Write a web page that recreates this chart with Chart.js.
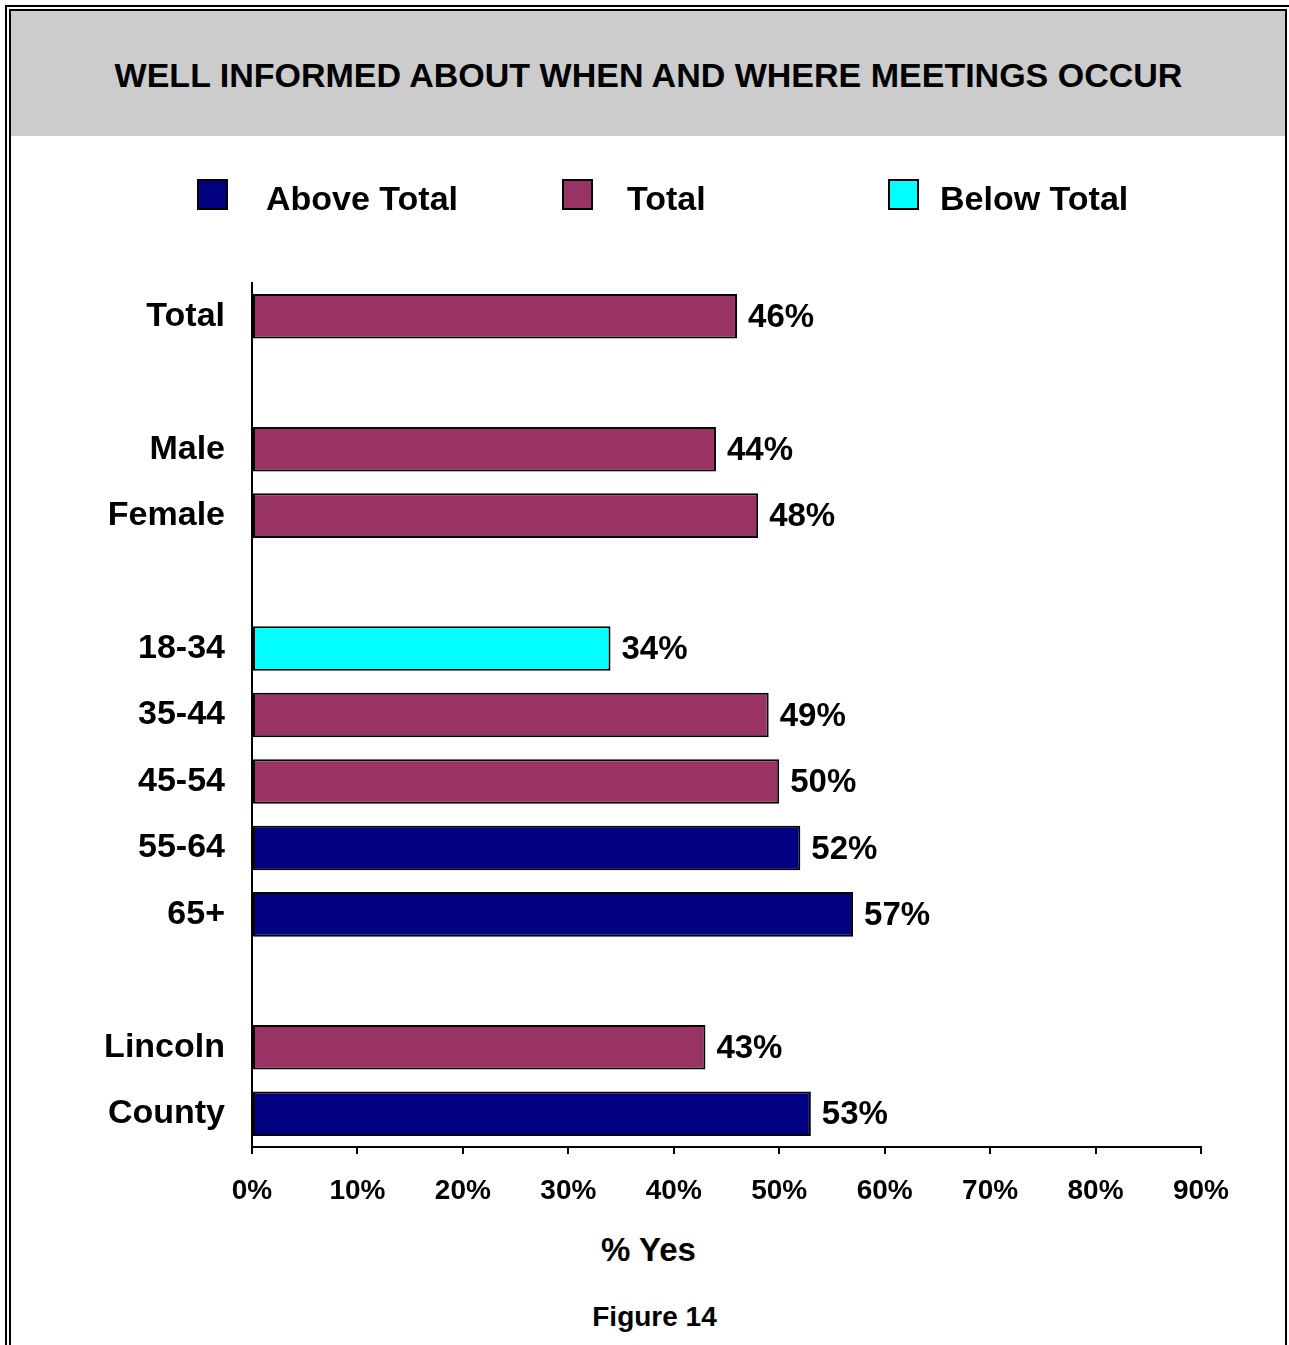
<!DOCTYPE html>
<html>
<head>
<meta charset="utf-8">
<script src="https://cdn.jsdelivr.net/npm/chart.js@4/dist/chart.umd.min.js"></script>
<style>
html,body{margin:0;padding:0;background:#fff;overflow:hidden;}
body{width:1289px;height:1345px;position:relative;font-family:"Liberation Sans",Arial,sans-serif;}
#outer{position:absolute;left:5px;top:5px;width:1400px;height:1500px;border-left:2px solid #000;border-top:2px solid #000;}
#inner{position:absolute;left:9px;top:9px;width:1274px;height:1500px;border-left:2px solid #000;border-top:2px solid #000;border-right:2px solid #000;}
#band{position:absolute;left:11px;top:11px;width:1274px;height:125px;background:#cccccc;}
.txt{position:absolute;width:1289px;text-align:center;font-weight:bold;color:#000;white-space:nowrap;}
#title{left:4px;top:56px;font-size:34px;line-height:39px;}
#xtitle{left:4px;top:1231px;font-size:33px;line-height:38px;}
#caption{left:10px;top:1301px;font-size:28px;line-height:32px;}
#c{position:absolute;left:0;top:0;}
</style>
</head>
<body>
<div id="outer"></div>
<div id="inner"></div>
<div id="band"></div>
<div class="txt" id="title">WELL INFORMED ABOUT WHEN AND WHERE MEETINGS OCCUR</div>
<div class="txt" id="xtitle">% Yes</div>
<div class="txt" id="caption">Figure 14</div>
<canvas id="c" width="1289" height="1345" style="width:1289px;height:1345px"></canvas>
<script>
const categories = ['Total', '', 'Male', 'Female', '', '18-34', '35-44', '45-54', '55-64', '65+', '', 'Lincoln', 'County'];
const values = [46, null, 44, 48, null, 34, 49, 50, 52, 57, null, 43, 53];
const groups = ['total', null, 'total', 'total', null, 'below', 'total', 'total', 'above', 'above', null, 'total', 'above'];
const legendKeys = ['above', 'total', 'below'];
const legendLabels = ['Above Total', 'Total', 'Below Total'];
const xTicks = [0, 10, 20, 30, 40, 50, 60, 70, 80, 90];
const groupColors = {above: '#000080', total: '#993366', below: '#00FFFF'};

const FAMILY = '"Liberation Sans", Arial, Helvetica, sans-serif';
Chart.defaults.font.family = FAMILY;
Chart.defaults.color = '#000';

const dataLabels = {
  id: 'dataLabels',
  afterDatasetsDraw(chart) {
    const ctx = chart.ctx;
    const meta = chart.getDatasetMeta(0);
    ctx.save();
    ctx.font = 'bold 33px ' + FAMILY;
    ctx.fillStyle = '#000';
    ctx.textAlign = 'left';
    ctx.textBaseline = 'middle';
    meta.data.forEach((bar, i) => {
      const v = values[i];
      if (v === null || v === undefined) return;
      ctx.fillText(v + '%', bar.x + 11, bar.y + 1.5);
    });
    ctx.restore();
  }
};

const boxLegend = {
  id: 'boxLegend',
  afterDraw(chart, args, opts) {
    const ctx = chart.ctx;
    ctx.save();
    ctx.font = 'bold 34px ' + FAMILY;
    ctx.textAlign = 'left';
    ctx.textBaseline = 'alphabetic';
    legendKeys.forEach((k, i) => {
      const bx = opts.boxX[i];
      ctx.fillStyle = groupColors[k];
      ctx.fillRect(bx, opts.top, opts.size, opts.size);
      ctx.lineWidth = 2;
      ctx.strokeStyle = '#000';
      ctx.strokeRect(bx + 1, opts.top + 1, opts.size - 2, opts.size - 2);
      ctx.fillStyle = '#000';
      ctx.fillText(legendLabels[i], opts.textX[i], opts.baseline);
    });
    ctx.restore();
  }
};

new Chart(document.getElementById('c'), {
  type: 'bar',
  data: {
    labels: categories,
    datasets: [{
      data: values,
      backgroundColor: groups.map(g => g ? groupColors[g] : 'rgba(0,0,0,0)'),
      borderColor: '#000',
      borderWidth: 2,
      borderSkipped: false,
      barPercentage: 0.67,
      categoryPercentage: 1.0
    }]
  },
  options: {
    indexAxis: 'y',
    responsive: false,
    devicePixelRatio: 1,
    animation: false,
    events: [],
    layout: {padding: {top: 283, left: 0, right: 88, bottom: 0}},
    plugins: {
      legend: {display: false},
      tooltip: {enabled: false},
      title: {display: false},
      boxLegend: {boxX: [197, 562, 888], textX: [266, 627, 940], top: 179, size: 31, baseline: 210}
    },
    scales: {
      x: {
        type: 'linear',
        position: 'bottom',
        min: 0,
        max: 90,
        afterFit(s) { s.height = 198; },
        afterBuildTicks(s) { s.ticks = xTicks.map(v => ({value: v})); },
        ticks: {
          callback: v => v + '%',
          font: {size: 28, weight: 'bold'},
          color: '#000',
          padding: 20,
          maxRotation: 0,
          autoSkip: false
        },
        grid: {display: true, drawOnChartArea: false, drawTicks: true, tickLength: 7, color: '#000', lineWidth: 2},
        border: {display: true, color: '#000', width: 2}
      },
      y: {
        type: 'category',
        position: 'left',
        afterFit(s) { s.width = 252; },
        ticks: {
          font: {size: 34, weight: 'bold'},
          color: '#000',
          padding: 27,
          autoSkip: false
        },
        grid: {display: false, drawTicks: false},
        border: {display: true, color: '#000', width: 2}
      }
    }
  },
  plugins: [dataLabels, boxLegend]
});
</script>
</body>
</html>
